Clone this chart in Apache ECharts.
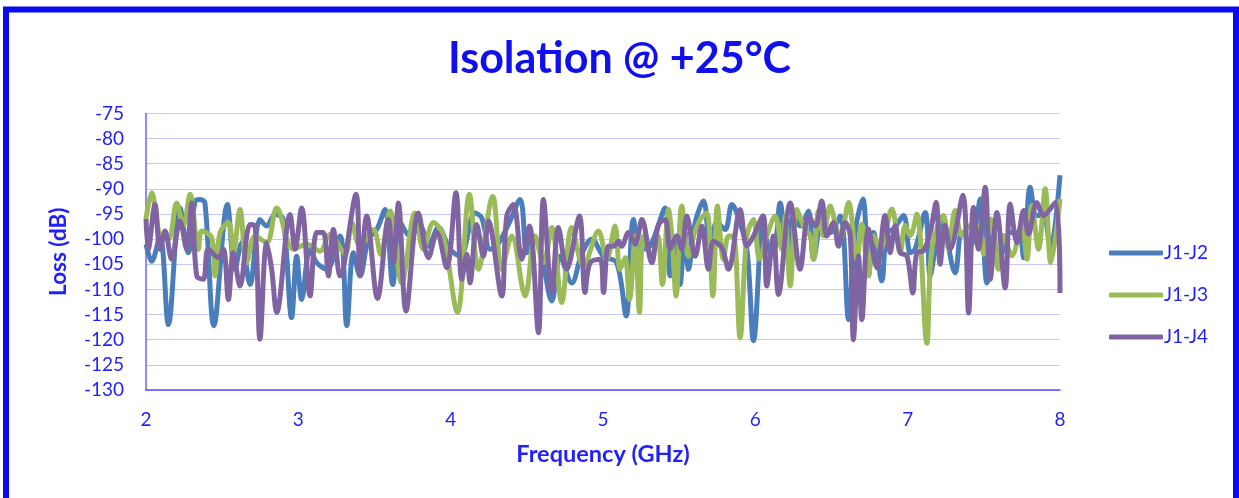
<!DOCTYPE html>
<html>
<head>
<meta charset="utf-8">
<script src="https://cdn.jsdelivr.net/npm/echarts@6/dist/echarts.min.js"></script>
<style>
html,body{margin:0;padding:0;background:#fff;}
#chart{width:1239px;height:498px;}
</style>
</head>
<body>
<div id="chart"></div>
<script>
const titleText = 'Isolation @ +25°C';
const seriesNames = ['J1-J2', 'J1-J3', 'J1-J4'];
const yTicks = [-130, -75, 5];
const xTicks = [2, 8, 1];

const j12Freq = [2.000,2.037,2.092,2.147,2.223,2.278,2.322,2.355,2.387,2.446,2.534,2.584,2.628,2.683,2.748,2.792,2.847,2.900,2.956,2.989,3.022,3.077,3.121,3.186,3.274,3.318,3.361,3.405,3.460,3.515,3.569,3.620,3.668,3.733,3.799,3.854,3.920,3.996,4.062,4.160,4.204,4.259,4.302,4.380,4.456,4.500,4.543,4.600,4.664,4.718,4.795,4.860,4.926,5.003,5.090,5.152,5.200,5.244,5.309,5.408,5.441,5.484,5.506,5.539,5.561,5.605,5.660,5.703,5.747,5.802,5.846,5.878,5.944,5.988,6.053,6.086,6.119,6.163,6.207,6.250,6.294,6.349,6.382,6.436,6.491,6.557,6.612,6.655,6.706,6.743,6.776,6.830,6.863,6.907,6.973,7.017,7.049,7.115,7.148,7.181,7.224,7.312,7.356,7.420,7.476,7.520,7.564,7.596,7.673,7.728,7.761,7.804,7.848,7.892,7.936,8.000];
const j12Loss = [-101,-104.4,-99.4,-117,-93.8,-102.7,-92.5,-92.1,-92.8,-117.2,-93.1,-106,-100.7,-109,-96.1,-97.4,-95.1,-96,-115.6,-103.4,-112,-102,-104.7,-106,-99.4,-117.2,-102.7,-107.3,-100,-98.1,-94.1,-109,-96.7,-99.4,-97.4,-101.4,-97.7,-102,-103.4,-94.8,-95.8,-102,-101.4,-97,-92.1,-102.7,-99.4,-104,-112.3,-103.4,-108.7,-103,-100,-103.4,-104.7,-115.3,-96.1,-102,-101.4,-93.8,-107.3,-99.4,-109,-98.7,-106,-96.7,-92.4,-101.4,-96.7,-98.1,-93.1,-94.8,-102,-120.2,-95.4,-102,-102.7,-92.8,-103.4,-95.4,-97.4,-94.4,-104,-97.4,-98.7,-95.4,-116,-98.7,-92,-107.3,-98.7,-108.3,-98.7,-98,-95.3,-102.7,-102,-94.7,-107.3,-102,-96.7,-106.7,-98.7,-101,-92,-108.7,-98.7,-104.7,-98.7,-98.7,-103.7,-89.7,-95.3,-95.3,-102,-87.3];

const j13Freq = [2.000,2.037,2.092,2.147,2.201,2.245,2.289,2.344,2.366,2.431,2.453,2.486,2.541,2.573,2.617,2.661,2.716,2.792,2.858,2.967,3.055,3.142,3.208,3.307,3.350,3.405,3.493,3.540,3.602,3.679,3.766,3.821,3.887,3.952,4.044,4.123,4.182,4.276,4.335,4.401,4.489,4.554,4.609,4.664,4.729,4.795,4.872,4.970,5.025,5.079,5.112,5.145,5.174,5.211,5.239,5.266,5.320,5.360,5.390,5.430,5.452,5.480,5.517,5.561,5.594,5.638,5.681,5.721,5.751,5.791,5.824,5.856,5.900,5.944,5.988,6.027,6.075,6.130,6.174,6.196,6.229,6.272,6.316,6.360,6.382,6.415,6.447,6.491,6.524,6.557,6.612,6.666,6.699,6.743,6.776,6.820,6.896,6.951,6.984,7.017,7.060,7.126,7.159,7.235,7.268,7.312,7.356,7.410,7.465,7.500,7.545,7.596,7.629,7.684,7.750,7.783,7.815,7.859,7.903,7.940,8.000];
const j13Loss = [-96,-90.8,-99.4,-100,-92.8,-97.4,-91.1,-102,-98.4,-99.7,-107.3,-98.7,-96.7,-102.7,-94.1,-104.7,-99.4,-100.7,-93.8,-102,-101,-102.4,-99.1,-103,-96.7,-101.4,-98.1,-103,-94.4,-108.7,-94.8,-102,-96.7,-99.4,-114.6,-91.1,-106,-91.5,-106,-99.4,-111.3,-99.4,-104.7,-97.7,-112.6,-97.7,-105.3,-98.4,-104,-97.4,-106,-103.7,-112,-99.4,-114.6,-99.4,-103.4,-99.4,-109,-94.1,-99.4,-111.3,-93.4,-103.4,-99.4,-96.1,-94.8,-111.3,-93.4,-104,-99.4,-99.4,-119.6,-99.4,-96.1,-104,-99.4,-95.4,-102,-95.4,-109.3,-94.1,-97.4,-99.4,-104,-94.4,-99.4,-93.4,-96.7,-100,-92.7,-104,-97,-107.3,-99.3,-102,-94,-102.7,-97.3,-99.3,-95,-120.7,-102,-95.3,-102,-94.3,-99.3,-97.3,-97.3,-103,-96,-106,-99.3,-103.3,-97,-104,-93.3,-102,-90,-104.7,-92];

const j14Freq = [2.000,2.015,2.059,2.092,2.125,2.168,2.223,2.267,2.300,2.333,2.376,2.409,2.475,2.508,2.541,2.573,2.617,2.683,2.716,2.748,2.792,2.825,2.858,2.946,2.978,3.022,3.077,3.121,3.164,3.197,3.230,3.274,3.379,3.405,3.449,3.520,3.591,3.624,3.657,3.707,3.788,3.854,3.909,3.974,4.035,4.073,4.106,4.127,4.171,4.215,4.248,4.335,4.368,4.412,4.467,4.517,4.576,4.609,4.664,4.707,4.762,4.845,4.882,4.915,4.981,5.003,5.036,5.069,5.101,5.123,5.167,5.211,5.255,5.320,5.364,5.408,5.441,5.484,5.517,5.550,5.605,5.649,5.692,5.725,5.780,5.824,5.900,5.944,5.988,6.049,6.075,6.119,6.152,6.229,6.294,6.349,6.393,6.436,6.469,6.513,6.546,6.590,6.623,6.644,6.677,6.699,6.743,6.798,6.852,6.885,6.918,6.951,6.995,7.034,7.060,7.104,7.148,7.187,7.213,7.246,7.279,7.362,7.400,7.432,7.465,7.509,7.542,7.586,7.640,7.673,7.717,7.761,7.793,7.848,7.892,7.969,8.000];
const j14Loss = [-96,-102,-93.1,-102,-98.4,-104,-96.4,-102,-92.8,-107.3,-108,-102,-103.7,-102,-112,-102.7,-109.3,-97.1,-97.4,-119.9,-100.7,-106,-114.6,-95.1,-102,-93.8,-111.3,-98.7,-98.7,-107.3,-98.1,-107.3,-91.1,-107.3,-95.4,-111.8,-96.1,-104.7,-92.8,-114.3,-94.8,-103.7,-98.7,-105.7,-90.8,-108,-103,-108.7,-97.1,-103.4,-96.4,-111.3,-95.4,-93.1,-104,-97.4,-118.6,-92.1,-110.6,-97.7,-106,-95.4,-110.6,-104.7,-104,-110.6,-101.4,-101.4,-100.4,-101.4,-98.7,-101,-96.1,-104.7,-97.1,-96.1,-102,-99.4,-102,-95.4,-103.4,-97.4,-106,-100.4,-101.7,-106,-94.1,-101.4,-99.4,-95.4,-109.3,-99.4,-111,-92.8,-106,-95.4,-97.4,-92.4,-99.4,-96.7,-101.4,-96.7,-99.3,-120,-103.3,-116,-98,-105.7,-95.3,-102.7,-97.3,-102.7,-103.3,-110.7,-102.7,-102.3,-98.7,-92.7,-105,-97.3,-102,-91.3,-114.7,-93.7,-102,-89.7,-108,-94.7,-109.7,-93,-100.7,-94.3,-99,-92.7,-95.3,-92.7,-110.7];

const colors = ['#4a7ebb', '#9bbb59', '#8064a2'];
const textBlue = '#1f1fff';
const fontFam = 'Lato, "Open Sans", sans-serif';

function pairs(f, v) { return f.map((x, i) => [x, v[i]]); }
const seriesData = [pairs(j12Freq, j12Loss), pairs(j13Freq, j13Loss), pairs(j14Freq, j14Loss)];

const chart = echarts.init(document.getElementById('chart'), null, {renderer: 'canvas'});
chart.setOption({
  animation: false,
  backgroundColor: '#fff',
  title: {
    text: titleText, left: 'center', top: 33,
    textStyle: {color: '#1010ee', fontSize: 43, fontWeight: 'bold', fontFamily: fontFam}
  },
  graphic: [{
    type: 'rect', silent: true,
    shape: {x: 6, y: 9.5, width: 1230, height: 560},
    style: {fill: 'none', stroke: '#0a0af0', lineWidth: 6}
  }],
  legend: {
    orient: 'vertical', left: 1104, top: 237,
    itemWidth: 54, itemHeight: 5, itemGap: 20,
    icon: 'roundRect',
    textStyle: {color: textBlue, fontSize: 19, fontFamily: fontFam, lineHeight: 22, padding: [0, 0, 0, -4]},
    data: seriesNames
  },
  grid: {left: 146, right: 179, top: 113.4, bottom: 108, containLabel: false},
  xAxis: {
    type: 'value', min: xTicks[0], max: xTicks[1], interval: xTicks[2],
    name: 'Frequency (GHz)', nameLocation: 'middle', nameGap: 52,
    nameTextStyle: {color: textBlue, fontSize: 23.5, fontWeight: 'bold', fontFamily: fontFam},
    axisLine: {lineStyle: {color: '#4d4dff', width: 1.5}},
    axisTick: {show: false},
    splitLine: {show: false},
    axisLabel: {color: textBlue, fontSize: 19, fontFamily: fontFam, margin: 20}
  },
  yAxis: {
    type: 'value', min: yTicks[0], max: yTicks[1], interval: yTicks[2],
    name: 'Loss (dB)', nameLocation: 'middle', nameGap: 76, nameRotate: 90,
    nameTextStyle: {color: textBlue, fontSize: 22.5, fontWeight: 'bold', fontFamily: fontFam},
    axisLine: {show: true, lineStyle: {color: '#6666ff', width: 1.5}},
    axisTick: {show: false},
    splitLine: {show: true, lineStyle: {color: '#c8c8f6', width: 1}},
    axisLabel: {color: textBlue, fontSize: 19, fontFamily: fontFam, margin: 22}
  },
  series: seriesNames.map((n, i) => ({
    name: n, type: 'line', data: seriesData[i],
    showSymbol: false, symbol: 'none', smooth: 0.35,
    lineStyle: {color: colors[i], width: 5},
    itemStyle: {color: colors[i]},
    z: 2 + i
  }))
});
</script>
</body>
</html>
